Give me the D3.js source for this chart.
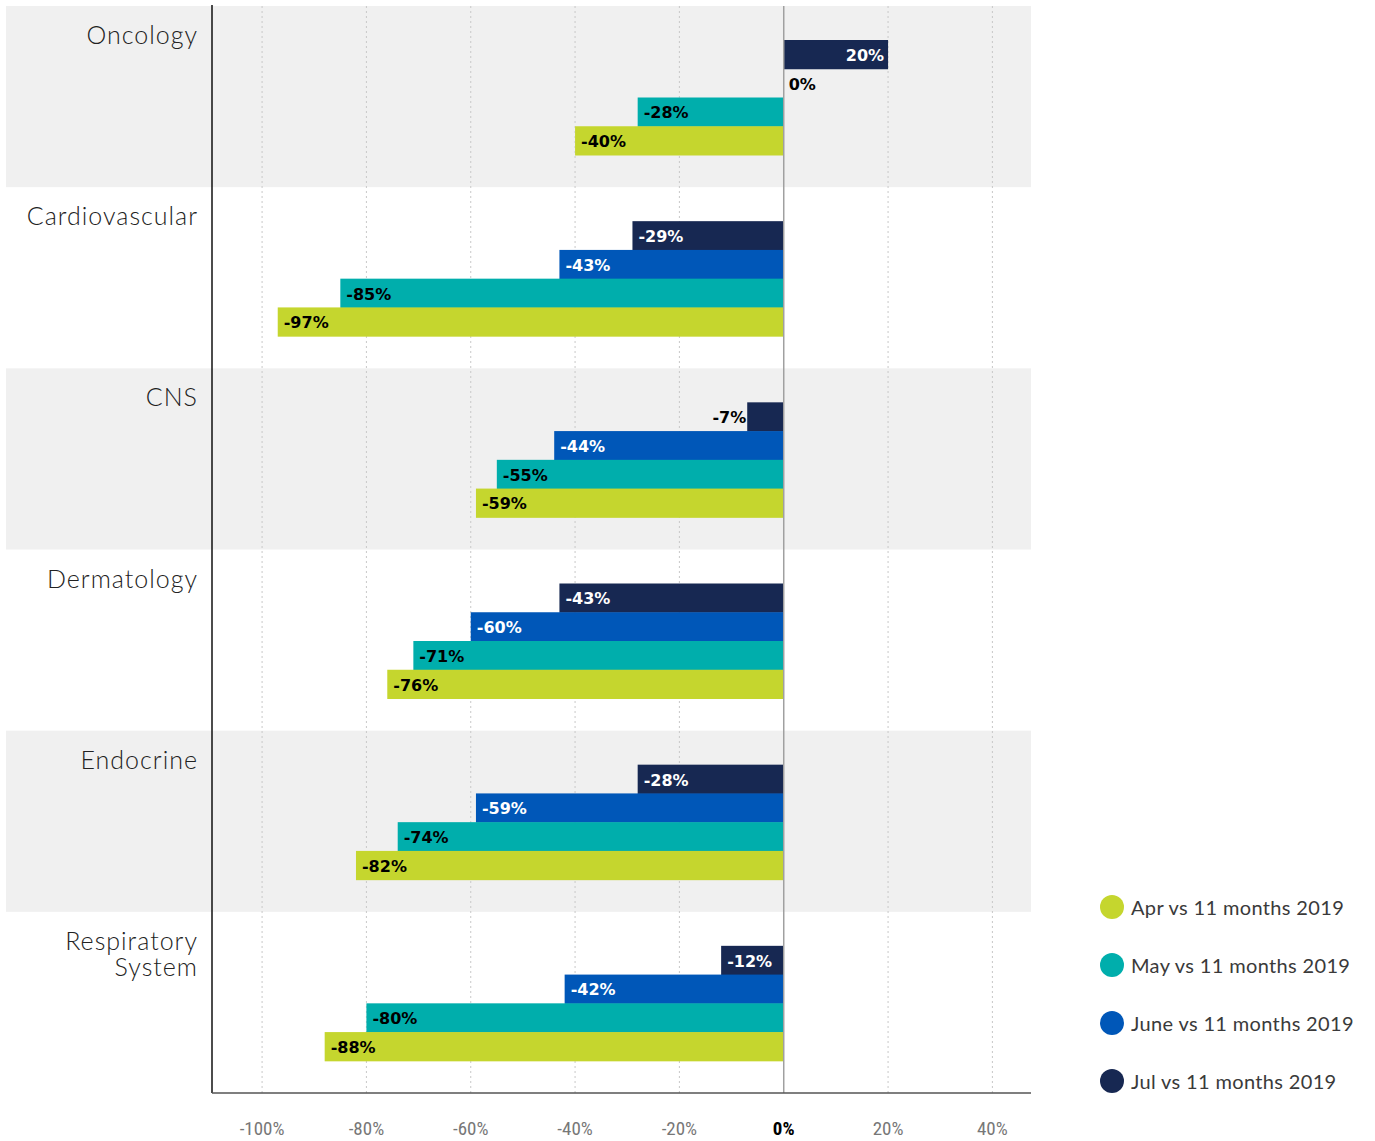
<!DOCTYPE html>
<html><head><meta charset="utf-8">
<script src="https://cdn.jsdelivr.net/npm/d3@7"></script>
<style>body{margin:0;background:#fff;} svg{display:block;}</style>
</head><body>
<svg id="chart" width="1375" height="1141"></svg>
<script>
const categories = ["Oncology","Cardiovascular","CNS","Dermatology","Endocrine","Respiratory System"];
const series = ["Jul vs 11 months 2019","June vs 11 months 2019","May vs 11 months 2019","Apr vs 11 months 2019"];
const legendOrder = ["Apr vs 11 months 2019","May vs 11 months 2019","June vs 11 months 2019","Jul vs 11 months 2019"];
const aprValues  = [-40,-97,-59,-76,-82,-88];
const mayValues  = [-28,-85,-55,-71,-74,-80];
const juneValues = [0,-43,-44,-60,-59,-42];
const julValues  = [20,-29,-7,-43,-28,-12];
const tickValues = [-100,-80,-60,-40,-20,0,20,40];
const colors = {"Apr vs 11 months 2019":"#c5d62e","May vs 11 months 2019":"#00aeac","June vs 11 months 2019":"#0057b8","Jul vs 11 months 2019":"#172852"};
const labelColors = {"Apr vs 11 months 2019":"#000","May vs 11 months 2019":"#000","June vs 11 months 2019":"#fff","Jul vs 11 months 2019":"#fff"};
const valuesBySeries = {"Apr vs 11 months 2019":aprValues,"May vs 11 months 2019":mayValues,"June vs 11 months 2019":juneValues,"Jul vs 11 months 2019":julValues};

const svg = d3.select("#chart");
const pLeft = 212, pRight = 1031, pTop = 6, pBottom = 1093;
const x = d3.scaleLinear().domain([-109.6, 47.4]).range([pLeft, pRight]);
const y0 = d3.scaleBand().domain(categories).range([pTop, pBottom]);
const y1 = d3.scaleBand().domain(series).range([34, 149]);

// bands
svg.append("g").selectAll("rect").data(categories.filter((d,i)=>i%2===0)).join("rect")
  .attr("x", 6).attr("width", pRight-6)
  .attr("y", d=>y0(d)).attr("height", y0.bandwidth())
  .attr("fill", "#f0f0f0");

// grid
svg.append("g").selectAll("line").data(tickValues.filter(d=>d!==0)).join("line")
  .attr("x1", d=>x(d)).attr("x2", d=>x(d)).attr("y1", pTop).attr("y2", pBottom)
  .attr("stroke", "#c8c8c8").attr("stroke-width", 1).attr("stroke-dasharray", "2,3");

// bars
const rows = [];
categories.forEach((c,i)=>series.forEach(s=>rows.push({c, s, v: valuesBySeries[s][i]})));
const g = svg.append("g");
g.selectAll("rect").data(rows).join("rect")
  .attr("x", d=>x(Math.min(0,d.v)))
  .attr("width", d=>Math.abs(x(d.v)-x(0)))
  .attr("y", d=>y0(d.c)+y1(d.s))
  .attr("height", y1.bandwidth()+0.5)
  .attr("fill", d=>colors[d.s]);

// zero line
svg.append("line").attr("x1", x(0)).attr("x2", x(0)).attr("y1", pTop).attr("y2", pBottom)
  .attr("stroke", "#a0a0a0").attr("stroke-width", 1.5);

// value labels
const fontBold = "'DejaVu Sans', Roboto, sans-serif";
g.selectAll("text").data(rows).join("text")
  .attr("font-family", fontBold).attr("font-weight", 700).attr("font-size", 16)
  .attr("dominant-baseline", "central")
  .attr("y", d=>y0(d.c)+y1(d.s)+y1.bandwidth()/2+1)
  .each(function(d){
    const t = d3.select(this).text(d.v+"%");
    const w = this.getComputedTextLength();
    const bw = Math.abs(x(d.v)-x(0));
    if (d.v === 0) {
      t.attr("x", x(0)+5).attr("text-anchor","start").attr("fill","#000");
    } else if (bw < w + 10) {
      if (d.v < 0) t.attr("x", x(d.v)-1).attr("text-anchor","end").attr("fill","#000");
      else t.attr("x", x(d.v)+4).attr("text-anchor","start").attr("fill","#000");
    } else if (d.v < 0) {
      t.attr("x", x(d.v)+6).attr("text-anchor","start").attr("fill", labelColors[d.s]);
    } else {
      t.attr("x", x(d.v)-4).attr("text-anchor","end").attr("fill", labelColors[d.s]);
    }
  });

// axes lines
svg.append("line").attr("x1", pLeft).attr("x2", pLeft).attr("y1", pTop-1).attr("y2", pBottom)
  .attr("stroke", "#111").attr("stroke-width", 1.5);
svg.append("line").attr("x1", pLeft).attr("x2", pRight).attr("y1", pBottom).attr("y2", pBottom)
  .attr("stroke", "#555").attr("stroke-width", 1.5);

// x tick labels
svg.append("g").selectAll("text").data(tickValues).join("text")
  .attr("x", d=>x(d)).attr("y", 1135).attr("text-anchor","middle")
  .attr("font-family", "'Liberation Sans Narrow', 'Roboto Condensed', Roboto, sans-serif")
  .attr("font-size", 19)
  .attr("font-weight", d=>d===0?700:400)
  .attr("fill", d=>d===0?"#000":"#777")
  .text(d=>d+"%");

// category labels
const catFont = "Lato, 'Open Sans', sans-serif";
categories.forEach(c=>{
  const words = c === "Respiratory System" ? ["Respiratory","System"] : [c];
  const t = svg.append("text").attr("text-anchor","end")
    .attr("font-family", catFont).attr("font-weight", 300).attr("font-size", 25)
    .attr("letter-spacing", "1px").attr("fill", "#222");
  words.forEach((w,i)=>t.append("tspan").attr("x", 198).attr("y", y0(c)+38+i*26).text(w));
});

// legend
const lg = svg.append("g").selectAll("g").data(legendOrder).join("g")
  .attr("transform", (d,i)=>`translate(1112,${907+i*58})`);
lg.append("circle").attr("r", 12).attr("fill", d=>colors[d]);
lg.append("text").attr("x", 19).attr("y", 0).attr("dominant-baseline","central")
  .attr("font-family", catFont).attr("font-weight", 400).attr("font-size", 20)
  .attr("letter-spacing", "0.35px")
  .attr("fill", "#3a3a3a").text(d=>d);
</script>
</body></html>
